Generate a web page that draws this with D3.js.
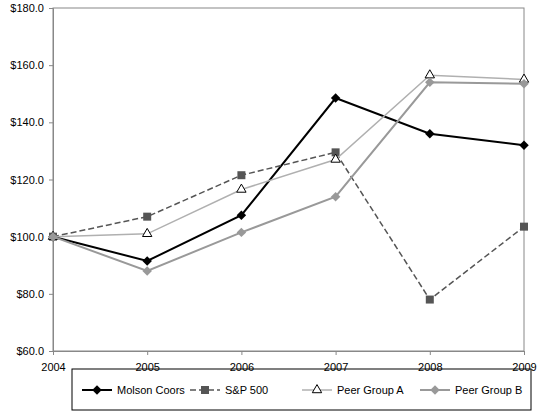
<!DOCTYPE html>
<html><head><meta charset="utf-8">
<script src="https://cdn.jsdelivr.net/npm/d3@7"></script>
<style>body{margin:0;background:#fff}text{font-family:Arial,"Liberation Sans",sans-serif;font-size:11px}</style>
</head><body><svg id="chart" width="537" height="417"></svg>
<script>
let years = [2004, 2005, 2006, 2007, 2008, 2009]
let yTicks = [60, 80, 100, 120, 140, 160, 180]
let molson = [100, 91.5, 107.5, 148.5, 136, 132]
let sp500 = [100, 107, 121.5, 129.5, 78, 103.5]
let peerA = [100, 101, 116.5, 127, 156.5, 155]
let peerB = [100, 88, 101.5, 114, 154, 153.5]

// diamonds drawn as rotated squares
let series = [
    {name: "Molson Coors", values: molson, color: "#000", dash: null, sym: d3.symbolSquare, rot: 45, size: 45, fill: "#000", stroke: "none", w: 2},
    {name: "S&P 500", values: sp500, color: "#555", dash: "6,3", sym: d3.symbolSquare, rot: 0, size: 64, fill: "#555", stroke: "none", w: 1.5},
    {name: "Peer Group A", values: peerA, color: "#b0b0b0", dash: null, sym: d3.symbolTriangle, rot: 0, size: 38, fill: "#fff", stroke: "#000", w: 1.5},
    {name: "Peer Group B", values: peerB, color: "#999", dash: null, sym: d3.symbolSquare, rot: 45, size: 45, fill: "#999", stroke: "none", w: 2}
]

let svg = d3.select("#chart")
let x = d3.scaleLinear().domain([2004, 2009]).range([53, 524])
let y = d3.scaleLinear().domain([60, 180]).range([351, 8])

svg.append("rect").attr("x", 53).attr("y", 8).attr("width", 471).attr("height", 343)
    .attr("fill", "none").attr("stroke", "#888")

let ya = svg.append("g").attr("transform", "translate(53,0)")
    .call(d3.axisLeft(y).tickValues(yTicks).tickFormat(d => "$" + d.toFixed(1)).tickSize(4))
ya.select(".domain").attr("stroke", "#888")
ya.selectAll("line").attr("stroke", "#888")
ya.selectAll("text").attr("fill", "#000").attr("dx", -2)

let xa = svg.append("g").attr("transform", "translate(0,351)")
    .call(d3.axisBottom(x).tickValues(years).tickFormat(d3.format("d")).tickSize(4))
xa.select(".domain").attr("stroke", "#888")
xa.selectAll("line").attr("stroke", "#888")
xa.selectAll("text").attr("fill", "#000").attr("dy", "1.2em")

let line = d3.line().x((d, i) => x(years[i])).y(d => y(d))

series.forEach(s => {
    svg.append("path").attr("d", line(s.values)).attr("fill", "none")
        .attr("stroke", s.color).attr("stroke-width", s.w).attr("stroke-dasharray", s.dash)
    svg.selectAll(null).data(s.values).enter().append("path")
        .attr("d", d3.symbol().type(s.sym).size(s.size))
        .attr("transform", (d, i) => `translate(${x(years[i])},${y(d)}) rotate(${s.rot})`)
        .attr("fill", s.fill).attr("stroke", s.stroke)
})

svg.append("rect").attr("x", 72).attr("y", 369).attr("width", 459).attr("height", 41)
    .attr("fill", "none").attr("stroke", "#000")
let lx = [82, 190, 302, 420]
series.forEach((s, i) => {
    let g = svg.append("g").attr("transform", `translate(${lx[i]},390)`)
    g.append("line").attr("x1", 0).attr("x2", 30).attr("stroke", s.color)
        .attr("stroke-width", s.w).attr("stroke-dasharray", s.dash)
    g.append("path").attr("d", d3.symbol().type(s.sym).size(s.size))
        .attr("transform", `translate(15,0) rotate(${s.rot})`)
        .attr("fill", s.fill).attr("stroke", s.stroke)
    g.append("text").attr("x", 35).attr("dy", "0.35em").text(s.name)
})
</script></body></html>
